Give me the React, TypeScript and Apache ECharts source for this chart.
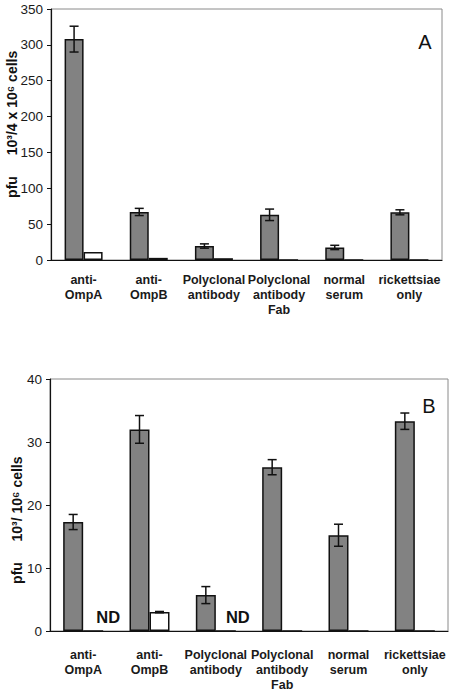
import React, { useEffect, useRef } from "react";
import * as echarts from "echarts";

const categories = [
  "anti-\nOmpA",
  "anti-\nOmpB",
  "Polyclonal\nantibody",
  "Polyclonal\nantibody\nFab",
  "normal\nserum",
  "rickettsiae\nonly",
];

// Panel A: pfu 10^3/4 x 10^6 cells
const aGrey = [308, 67, 19.5, 63, 17.5, 66.5];
const aGreyErr = [18, 5, 3, 8, 3, 3.5];
const aWhite = [11, 3, 2.5, 0, 0, 0];
const aMax = 350;
const aInterval = 50;

// Panel B: pfu 10^3/10^6 cells
const bGrey = [17.3, 32.0, 5.7, 26.0, 15.2, 33.3];
const bGreyErr = [1.2, 2.2, 1.35, 1.2, 1.75, 1.3];
const bWhite = [0, 3.0, 0, 0, 0, 0];
const bWhiteErr = [0, 0.1, 0, 0, 0, 0];
const bNotDone = [true, false, true, false, false, false];
const bNDOffset = [15, 0, 12, 0, 0, 0];
const bMax = 40;
const bInterval = 10;

const FONT = "Arial, 'Liberation Sans', Helvetica, sans-serif";
const GREY = "#828282";
const INK = "#111";

function errorSeries(
  vals: number[],
  errs: number[],
  axisIndex: number,
  dx: number
) {
  return {
    type: "custom",
    xAxisIndex: axisIndex,
    yAxisIndex: axisIndex,
    z: 5,
    encode: { x: 0, y: 1 },
    data: vals.map((v, i) => [i, v, errs[i]]),
    renderItem: (params: any, api: any) => {
      const ci = api.value(0);
      const v = api.value(1);
      const e = api.value(2);
      if (!e) return null;
      const top = api.coord([ci, v + e]);
      const bot = api.coord([ci, v - e]);
      const x = top[0] + dx;
      const cap = 4.5;
      const st = { stroke: INK, lineWidth: 1.5 };
      return {
        type: "group",
        children: [
          { type: "line", shape: { x1: x, y1: top[1], x2: x, y2: bot[1] }, style: st },
          { type: "line", shape: { x1: x - cap, y1: top[1], x2: x + cap, y2: top[1] }, style: st },
          { type: "line", shape: { x1: x - cap, y1: bot[1], x2: x + cap, y2: bot[1] }, style: st },
        ],
      };
    },
  };
}

function yAxis(gridIndex: number, max: number, interval: number) {
  return {
    type: "value",
    gridIndex,
    min: 0,
    max,
    interval,
    axisLine: { show: true, lineStyle: { color: INK, width: 1.2 } },
    axisTick: { show: true, length: 4, lineStyle: { color: INK } },
    splitLine: { show: false },
    axisLabel: { color: "#1a1a1a", fontFamily: FONT, fontSize: 13.5, margin: 8 },
  };
}

function xAxis(gridIndex: number, margin: number) {
  return {
    type: "category",
    gridIndex,
    data: categories,
    axisLine: { show: true, lineStyle: { color: INK, width: 1.2 } },
    axisTick: { show: false },
    axisLabel: {
      interval: 0,
      color: "#1a1a1a",
      fontFamily: FONT,
      fontSize: 12.5,
      fontWeight: "bold",
      lineHeight: 15,
      margin,
      verticalAlign: "top",
    },
  };
}

export default function App() {
  const ref = useRef<HTMLDivElement>(null);

  useEffect(() => {
    document.body.style.margin = "0";
    const chart = echarts.init(ref.current!, undefined, { renderer: "svg" });
    const barA = 19;
    const barB = 20;
    const titleStyle = { fontFamily: FONT, fontSize: 14, fontWeight: "bold", fill: INK, textAlign: "center", textVerticalAlign: "middle" };
    chart.setOption({
      animation: false,
      backgroundColor: "#fff",
      grid: [
        { left: 51, top: 9, width: 391, height: 251, show: true, borderColor: "#8a8a8a", borderWidth: 1 },
        { left: 50, top: 379, width: 398, height: 252, show: true, borderColor: "#8a8a8a", borderWidth: 1 },
      ],
      xAxis: [xAxis(0, 12), xAxis(1, 16)],
      yAxis: [yAxis(0, aMax, aInterval), yAxis(1, bMax, bInterval)],
      series: [
        {
          type: "bar",
          xAxisIndex: 0,
          yAxisIndex: 0,
          data: aGrey,
          barWidth: barA,
          barGap: "0%",
          itemStyle: { color: GREY, borderColor: INK, borderWidth: 1.5 },
        },
        {
          type: "bar",
          xAxisIndex: 0,
          yAxisIndex: 0,
          data: aWhite,
          barWidth: barA,
          barGap: "0%",
          itemStyle: { color: "#fff", borderColor: INK, borderWidth: 1.5 },
        },
        errorSeries(aGrey, aGreyErr, 0, -barA / 2),
        {
          type: "bar",
          xAxisIndex: 1,
          yAxisIndex: 1,
          data: bGrey,
          barWidth: barB,
          barGap: "0%",
          itemStyle: { color: GREY, borderColor: INK, borderWidth: 1.5 },
        },
        {
          type: "bar",
          xAxisIndex: 1,
          yAxisIndex: 1,
          data: bWhite.map((v, i) =>
            bNotDone[i]
              ? {
                  value: v,
                  label: {
                    show: true,
                    formatter: "ND",
                    position: "top",
                    distance: 5,
                    offset: [bNDOffset[i], 0],
                    fontFamily: FONT,
                    fontSize: 16.5,
                    fontWeight: "bold",
                    color: INK,
                  },
                }
              : v
          ),
          barWidth: barB,
          barGap: "0%",
          itemStyle: { color: "#fff", borderColor: INK, borderWidth: 1.5 },
        },
        errorSeries(bGrey, bGreyErr, 1, -barB / 2),
        errorSeries(bWhite, bWhiteErr, 1, barB / 2),
      ],
      graphic: [
        { type: "text", x: 12, y: 187, rotation: Math.PI / 2, style: { ...titleStyle, text: "pfu" } },
        { type: "text", x: 12, y: 103, rotation: Math.PI / 2, style: { ...titleStyle, text: "10³/4 x 10⁶ cells" } },
        { type: "text", x: 425, y: 42, style: { fontFamily: FONT, fontSize: 20, fill: INK, text: "A", textAlign: "center", textVerticalAlign: "middle" } },
        { type: "text", x: 17, y: 573, rotation: Math.PI / 2, style: { ...titleStyle, text: "pfu" } },
        { type: "text", x: 17, y: 499, rotation: Math.PI / 2, style: { ...titleStyle, text: "10³/ 10⁶ cells" } },
        { type: "text", x: 429, y: 406, style: { fontFamily: FONT, fontSize: 20, fill: INK, text: "B", textAlign: "center", textVerticalAlign: "middle" } },
      ],
    });
    return () => chart.dispose();
  }, []);

  return <div ref={ref} style={{ width: 452, height: 693 }} />;
}
